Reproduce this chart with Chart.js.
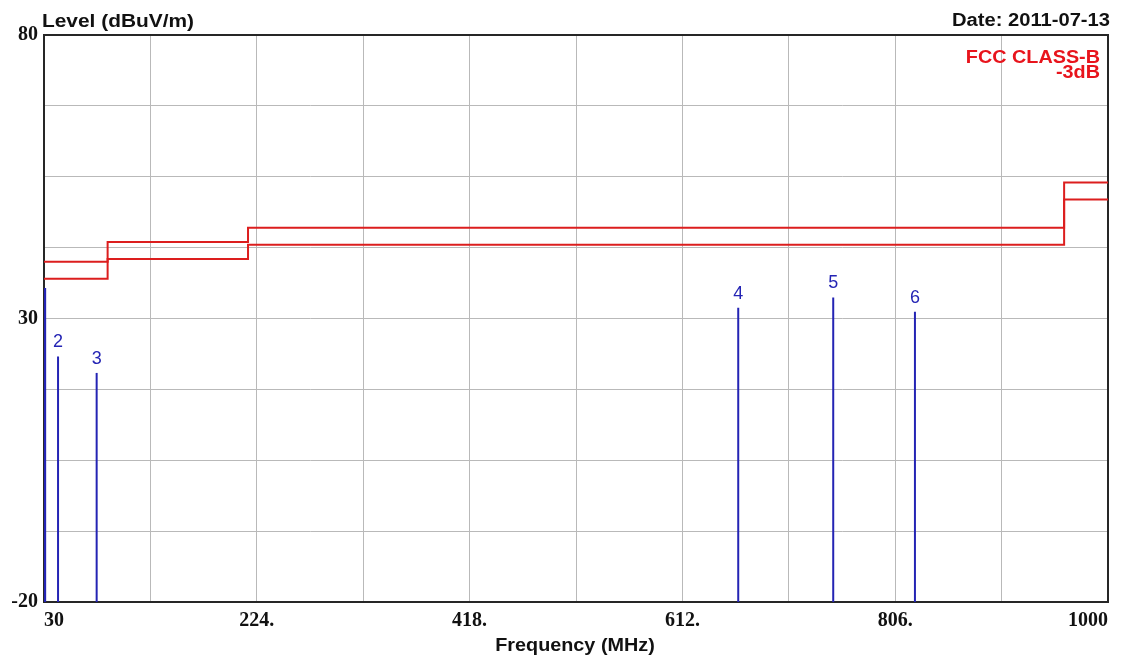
<!DOCTYPE html>
<html>
<head>
<meta charset="utf-8">
<script src="https://cdn.jsdelivr.net/npm/chart.js@4"></script>
<style>
  html, body { margin: 0; padding: 0; background: #fff; }
  #wrap { width: 1136px; height: 659px; }
</style>
</head>
<body>
<div id="wrap"><canvas id="chart"></canvas></div>
<script>
// FCC class B limit and the -3 dB margin line
const limitFreq = [30, 88, 216, 960, 1000];
const limitLevel = [40, 43.5, 46, 54, 54];
const marginFreq = [30, 88, 216, 960, 1000];
const marginLevel = [37, 40.5, 43, 51, 51];

// measured peaks
const markerNames = ['', '2', '3', '4', '5', '6'];
const markerFreq = [30.6, 42.8, 78, 662.9, 749.5, 824];
const markerLevel = [35.4, 23.3, 20.4, 31.9, 33.7, 31.2];

const xTicks = [30, 127, 224, 321, 418, 515, 612, 709, 806, 903, 1000];
const xTickLabels = ['30', '', '224.', '', '418.', '', '612.', '', '806.', '', '1000'];
const yTicks = [-20, -7.5, 5, 17.5, 30, 42.5, 55, 67.5, 80];
const yTickLabels = ['-20', '', '', '', '30', '', '', '', '80'];

const RED = '#dc1e1e';
const BLUE = '#2424b4';
const GRID = '#b9b9b9';
const FRAME = '#262626';

function stretchText(ctx, text, x, y, sx, align) {
  ctx.save();
  ctx.translate(x, y);
  ctx.scale(sx, 1);
  ctx.textAlign = align;
  ctx.fillText(text, 0, 0);
  ctx.restore();
}

const decorations = {
  id: 'decorations',
  beforeDatasetsDraw(chart) {
    const { ctx, chartArea: a } = chart;
    ctx.save();
    ctx.strokeStyle = FRAME;
    ctx.lineWidth = 2;
    ctx.strokeRect(a.left, a.top, a.right - a.left, a.bottom - a.top);
    ctx.restore();
  },
  afterDatasetsDraw(chart) {
    const { ctx } = chart;
    const xs = chart.scales.x, ys = chart.scales.y;
    ctx.save();
    ctx.fillStyle = BLUE;
    ctx.font = '18px "Liberation Sans", Arial, sans-serif';
    ctx.textBaseline = 'middle';
    ctx.textAlign = 'center';
    markerNames.forEach((name, i) => {
      if (!name) return;
      ctx.fillText(name, xs.getPixelForValue(markerFreq[i]), ys.getPixelForValue(markerLevel[i]) - 14);
    });
    ctx.restore();
  },
  afterDraw(chart) {
    const { ctx } = chart;
    ctx.save();
    ctx.textBaseline = 'alphabetic';
    ctx.font = 'bold 18px "Liberation Sans", Arial, sans-serif';
    ctx.fillStyle = '#111';
    stretchText(ctx, 'Level (dBuV/m)', 42, 27, 1.16, 'left');
    stretchText(ctx, 'Date: 2011-07-13', 1110, 26, 1.12, 'right');
    stretchText(ctx, 'Frequency (MHz)', 575, 651, 1.1, 'center');
    ctx.fillStyle = '#e8141c';
    stretchText(ctx, 'FCC CLASS-B', 1100, 63, 1.1, 'right');
    stretchText(ctx, '-3dB', 1100, 78, 1.1, 'right');
    ctx.restore();
  }
};

const tickFont = { family: '"Liberation Serif", "Times New Roman", serif', size: 20, weight: 'bold' };

const datasets = [
  {
    data: limitFreq.map((f, i) => ({ x: f, y: limitLevel[i] })),
    borderColor: RED,
    borderWidth: 2,
    stepped: 'before',
  },
  {
    data: marginFreq.map((f, i) => ({ x: f, y: marginLevel[i] })),
    borderColor: RED,
    borderWidth: 2,
    stepped: 'before',
  },
].concat(markerFreq.map((f, i) => ({
  data: [{ x: f, y: -20 }, { x: f, y: markerLevel[i] }],
  borderColor: BLUE,
  borderWidth: i === 0 ? 3 : 2,
})));

datasets.forEach((d) => {
  d.showLine = true;
  d.pointRadius = 0;
  d.fill = false;
});

new Chart(document.getElementById('chart'), {
  type: 'scatter',
  data: { datasets },
  options: {
    responsive: true,
    maintainAspectRatio: false,
    animation: false,
    devicePixelRatio: 1,
    layout: { padding: { top: 35, right: 28, bottom: 0, left: 0 } },
    plugins: {
      legend: { display: false },
      tooltip: { enabled: false },
    },
    scales: {
      x: {
        type: 'linear',
        min: 30,
        max: 1000,
        afterBuildTicks: (s) => { s.ticks = xTicks.map((v) => ({ value: v })); },
        afterFit: (s) => { s.height = 57; },
        grid: { color: GRID, lineWidth: 1, drawTicks: false },
        border: { display: true, color: FRAME, width: 2 },
        ticks: {
          autoSkip: false,
          maxRotation: 0,
          align: 'inner',
          padding: 7,
          color: '#111',
          font: tickFont,
          callback: (v) => xTickLabels[xTicks.indexOf(v)],
        },
      },
      y: {
        type: 'linear',
        min: -20,
        max: 80,
        afterBuildTicks: (s) => { s.ticks = yTicks.map((v) => ({ value: v })); },
        afterFit: (s) => { s.width = 44; },
        grid: { color: GRID, lineWidth: 1, drawTicks: false },
        border: { display: true, color: FRAME, width: 2 },
        ticks: {
          autoSkip: false,
          padding: 6,
          color: '#111',
          font: tickFont,
          callback: (v) => yTickLabels[yTicks.indexOf(v)],
        },
      },
    },
  },
  plugins: [decorations],
});
</script>
</body>
</html>
